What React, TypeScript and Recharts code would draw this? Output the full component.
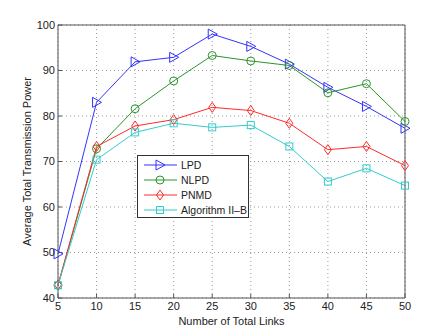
import React from 'react';
import { LineChart, Line, XAxis, YAxis, CartesianGrid } from 'recharts';

const links = [5, 10, 15, 20, 25, 30, 35, 40, 45, 50];
const lpd = [49.7, 83.0, 91.9, 92.9, 98.0, 95.3, 91.4, 86.3, 82.1, 77.3];
const nlpd = [42.8, 72.8, 81.6, 87.7, 93.3, 92.1, 91.1, 85.1, 87.1, 78.8];
const pnmd = [42.9, 73.3, 77.8, 79.2, 81.9, 81.2, 78.4, 72.6, 73.3, 69.1];
const algo = [42.8, 70.4, 76.4, 78.4, 77.5, 78.0, 73.3, 65.6, 68.5, 64.7];
const xTicks = [5, 10, 15, 20, 25, 30, 35, 40, 45, 50];
const yTicks = [40, 50, 60, 70, 80, 90, 100];

const data = links.map((x, i) => ({ x, lpd: lpd[i], nlpd: nlpd[i], pnmd: pnmd[i], algo: algo[i] }));

type Shape = 'tri' | 'circle' | 'diamond' | 'square';

const series: { key: string; name: string; color: string; shape: Shape }[] = [
  { key: 'lpd', name: 'LPD', color: '#3333ff', shape: 'tri' },
  { key: 'nlpd', name: 'NLPD', color: '#2a962a', shape: 'circle' },
  { key: 'pnmd', name: 'PNMD', color: '#ff2a2a', shape: 'diamond' },
  { key: 'algo', name: 'Algorithm II\u2013B', color: '#33cccc', shape: 'square' },
];

function marker(shape: Shape, cx: number, cy: number, color: string, key?: any) {
  const common = { fill: 'none', stroke: color, strokeWidth: 1 };
  if (shape === 'tri') {
    return <polygon key={key} points={`${cx - 4},${cy - 5} ${cx + 5},${cy} ${cx - 4},${cy + 5}`} {...common} />;
  }
  if (shape === 'circle') {
    return <circle key={key} cx={cx} cy={cy} r={4} {...common} />;
  }
  if (shape === 'diamond') {
    return <polygon key={key} points={`${cx},${cy - 5} ${cx + 3.5},${cy} ${cx},${cy + 5} ${cx - 3.5},${cy}`} {...common} />;
  }
  return <rect key={key} x={cx - 3.5} y={cy - 3.5} width={7} height={7} {...common} />;
}

const makeDot = (shape: Shape, color: string) => (props: any) => {
  const { cx, cy, index } = props;
  if (cx == null || cy == null) return <g key={index} />;
  return marker(shape, cx, cy, color, index);
};

const font = "'Liberation Sans', Arial, sans-serif";

const LegendBox = () => (
  <div style={{ position: 'absolute', left: 137, top: 155, width: 112, height: 63, border: '1px solid #333', background: '#fff', boxSizing: 'border-box' }}>
    <svg width={110} height={61} style={{ display: 'block', overflow: 'visible' }}>
      {series.map((s, i) => {
        const y = 9 + i * 15;
        return (
          <g key={s.key}>
            <line x1={6} x2={39} y1={y} y2={y} stroke={s.color} strokeWidth={1} />
            {marker(s.shape, 22, y, s.color)}
            <text x={43} y={y + 4} fontSize={10.5} fontFamily={font} fill="#222">
              {s.name}
            </text>
          </g>
        );
      })}
    </svg>
  </div>
);

export default function App() {
  return (
    <div style={{ position: 'absolute', left: 0, top: 0, width: 447, height: 336, background: '#fff' }}>
      <LineChart width={447} height={336} data={data} margin={{ top: 24, right: 41, bottom: 8, left: 0 }}>
        <CartesianGrid stroke="#999" strokeDasharray="1 3" />
        <XAxis
          dataKey="x"
          type="number"
          domain={[5, 50]}
          ticks={xTicks}
          height={30}
          tickSize={-4}
          tickMargin={8}
          stroke="#555"
          tick={{ fill: '#222', fontSize: 11, fontFamily: font }}
          label={{ value: 'Number of Total Links', position: 'insideBottom', offset: 0, dy: -3, fill: '#222', fontSize: 11, fontFamily: font }}
        />
        <XAxis xAxisId="top" orientation="top" type="number" domain={[5, 50]} ticks={xTicks} height={1} tickSize={-4} tick={false} stroke="#555" />
        <YAxis
          type="number"
          domain={[40, 100]}
          ticks={yTicks}
          width={58}
          tickSize={-4}
          tickMargin={7}
          stroke="#555"
          tick={{ fill: '#222', fontSize: 11, fontFamily: font }}
          label={{ value: 'Average Total Transmission Power', angle: -90, position: 'insideLeft', offset: 0, dx: 27, fill: '#222', fontSize: 11, fontFamily: font, style: { textAnchor: 'middle' } }}
        />
        <YAxis yAxisId="right" orientation="right" type="number" domain={[40, 100]} ticks={yTicks} width={1} tickSize={-4} tick={false} stroke="#555" />
        {series.map((s) => (
          <Line
            key={s.key}
            dataKey={s.key}
            name={s.name}
            stroke={s.color}
            strokeWidth={1}
            dot={makeDot(s.shape, s.color)}
            activeDot={false}
            isAnimationActive={false}
          />
        ))}
      </LineChart>
      <LegendBox />
    </div>
  );
}
